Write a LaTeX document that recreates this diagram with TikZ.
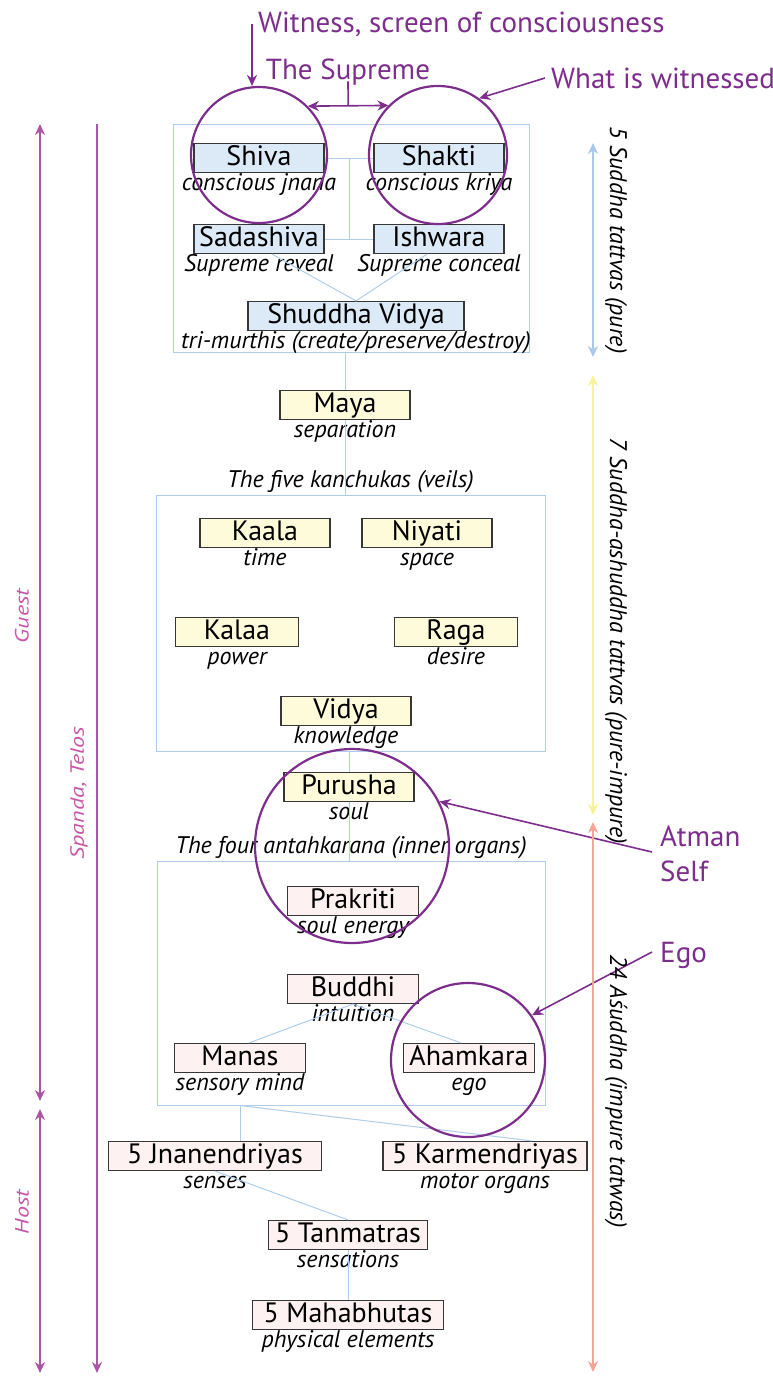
\documentclass[tikz,border=0pt]{standalone}
\usepackage{fontspec}
\setmainfont{PT Sans}
\usetikzlibrary{arrows.meta,calc}

\definecolor{annot}{RGB}{125,45,140}
\definecolor{sidecol}{RGB}{170,85,165}
\definecolor{sidetxt}{RGB}{200,85,165}
\definecolor{linkcol}{RGB}{175,205,235}
\definecolor{pureFill}{RGB}{220,234,247}
\definecolor{mixFill}{RGB}{254,251,219}
\definecolor{impFill}{RGB}{253,241,241}
\definecolor{pureArr}{RGB}{168,200,236}
\definecolor{mixArr}{RGB}{248,243,150}
\definecolor{impArr}{RGB}{247,164,150}
\definecolor{boxline}{RGB}{55,55,55}

\begin{document}
\begin{tikzpicture}[x=1pt, y=-1pt, >={Stealth[length=11pt,width=10pt]},
  tattva/.style={draw=boxline, line width=1.2pt, minimum width=130pt, minimum height=29pt,
    inner sep=0pt, text height=20pt, text depth=6pt, font=\fontsize{28}{28}\selectfont},
  sub/.style={inner sep=0pt, text height=17pt, text depth=6pt, font=\fontsize{24}{24}\selectfont\itshape},
  group/.style={draw=linkcol, line width=1pt, inner sep=0pt},
  title/.style={inner sep=0pt, text height=17pt, text depth=6pt, font=\fontsize{24}{24}\selectfont\itshape},
  link/.style={draw=linkcol, line width=1pt},
  halo/.style={circle, draw=annot, line width=2.2pt, inner sep=0pt},
  annotTxt/.style={text=annot, inner sep=0pt, font=\fontsize{29}{35}\selectfont},
  annotArrow/.style={draw=annot, line width=1.6pt, ->},
  vlabel/.style={inner sep=0pt, font=\fontsize{24}{24}\selectfont\itshape},
  sideTxt/.style={text=sidetxt, inner sep=0pt, font=\fontsize{24}{24}\selectfont\itshape},
  sideArrow/.style={draw=sidecol, line width=1.8pt}]
  \useasboundingbox (0,0) rectangle (773,1376);

  % Group frames
  \node[group, minimum width=356pt, minimum height=228pt] (pureBox) at (351,238) {};
  \node[group, minimum width=389pt, minimum height=256pt,
    label={[title, label distance=1pt]above:The five kanchukas (veils)}] (veilBox) at (350.5,623) {};
  \node[group, minimum width=388pt, minimum height=244pt,
    label={[title, label distance=1pt]above:The four antahkarana (inner organs)}] (organBox) at (351,983) {};

  % Pure tattvas
  \node[tattva, fill=pureFill, label={[sub]below:conscious jnana}] (shiva) at (259,158) {Shiva};
  \node[tattva, fill=pureFill, label={[sub]below:conscious kriya}] (shakti) at (439,158) {Shakti};
  \node[tattva, fill=pureFill, label={[sub]below:Supreme reveal}] (sadashiva) at (259,239) {Sadashiva};
  \node[tattva, fill=pureFill, label={[sub]below:Supreme conceal}] (ishwara) at (439,239) {Ishwara};
  \node[tattva, fill=pureFill, minimum width=216pt,
    label={[sub]below:{tri-murthis (create/preserve/destroy)}}] (shuddha) at (356,316) {Shuddha Vidya};

  % Pure-impure tattvas
  \node[tattva, fill=mixFill, label={[sub]below:separation}] (maya) at (345,405) {Maya};
  \node[tattva, fill=mixFill, label={[sub]below:time}] (kaala) at (265,533) {Kaala};
  \node[tattva, fill=mixFill, label={[sub]below:space}] (niyati) at (427,533) {Niyati};
  \node[tattva, fill=mixFill, minimum width=123pt, label={[sub]below:power}] (kalaa) at (237,632) {Kalaa};
  \node[tattva, fill=mixFill, minimum width=123pt, label={[sub]below:desire}] (raga) at (456,632) {Raga};
  \node[tattva, fill=mixFill, label={[sub]below:knowledge}] (vidya) at (346,711) {Vidya};
  \node[tattva, fill=mixFill, label={[sub]below:soul}] (purusha) at (349,787) {Purusha};

  % Impure tattvas
  \node[tattva, fill=impFill, minimum width=131pt, label={[sub]below:soul energy}] (prakriti) at (353,901) {Prakriti};
  \node[tattva, fill=impFill, minimum width=131pt, label={[sub]below:intuition}] (buddhi) at (353,989) {Buddhi};
  \node[tattva, fill=impFill, minimum width=131pt, label={[sub]below:sensory mind}] (manas) at (240,1058) {Manas};
  \node[tattva, fill=impFill, minimum width=131pt, label={[sub]below:ego}] (ahamkara) at (469,1058) {Ahamkara};
  \node[tattva, fill=impFill, minimum width=213pt, label={[sub]below:senses}] (jnan) at (215,1156) {5 Jnanendriyas};
  \node[tattva, fill=impFill, minimum width=204pt, label={[sub]below:motor organs}] (karm) at (485,1156) {5 Karmendriyas};
  \node[tattva, fill=impFill, minimum width=159pt, label={[sub]below:sensations}] (tanm) at (348,1235) {5 Tanmatras};
  \node[tattva, fill=impFill, minimum width=191pt, label={[sub]below:physical elements}] (maha) at (348,1315) {5 Mahabhutas};

  % Links
  \draw[link] (shiva.east) -- (shakti.west);
  \draw[link] (sadashiva.east) -- (ishwara.west);
  \draw[link] ($(shiva.east)!0.5!(shakti.west)$) -- ($(sadashiva.east)!0.5!(ishwara.west)$);
  \draw[link] ([xshift=13pt]sadashiva.south) -- (shuddha.north);
  \draw[link] ([xshift=-12pt]ishwara.south) -- (shuddha.north);
  \draw[link] (pureBox.south -| maya) -- (maya.north);
  \draw[link] (maya.south) -- (veilBox.north -| maya);
  \draw[link] (veilBox.south -| purusha) -- (purusha.north);
  \draw[link] (purusha.south) -- (organBox.north -| purusha);
  \draw[link] (buddhi.south) -- ([xshift=9pt]manas.north);
  \draw[link] (buddhi.south) -- ([xshift=-8pt]ahamkara.north);
  \draw[link] (organBox.south -| manas) -- (jnan.north -| manas);
  \draw[link] (organBox.south -| manas) -- ([xshift=47pt]karm.north);
  \draw[link] (jnan.south) -- (tanm.north);
  \draw[link] (tanm.south) -- (maha.north);

  % Witness circles and notes
  \node[halo, minimum size=136pt] (witnessC) at (259,155) {};
  \node[halo, minimum size=138pt] (witnessedC) at (438,155) {};
  \node[halo, minimum size=194pt] (atmanC) at (352,846) {};
  \node[halo, minimum size=154pt] (egoC) at (468,1060) {};

  \node[annotTxt, anchor=west] (witness) at (258,24) {Witness, screen of consciousness};
  \node[annotTxt] (supreme) at (348,72) {The Supreme};
  \node[annotTxt, anchor=west] (witnessed) at (551,78) {What is witnessed};
  \node[annotTxt, anchor=west, align=left] (atman) at (660,854) {Atman\\Self};
  \node[annotTxt, anchor=west] (egoTxt) at (660,955) {Ego};

  \draw[annotArrow] ([xshift=-6pt]witness.west) -- ([xshift=-6pt]witness.west |- witnessC.north);
  \draw[annotArrow, <->] (witnessC.45) -- coordinate (supremeMid) (witnessedC.135);
  \draw[draw=annot, line width=1.6pt] ([yshift=4pt]supreme.south) -- (supremeMid);
  \draw[annotArrow] ([xshift=-6pt]witnessed.west) -- (witnessedC.54);
  \draw[annotArrow] ([xshift=-8pt,yshift=2pt]atman.west) -- (atmanC.27);
  \draw[annotArrow] ([xshift=-8pt,yshift=3pt]egoTxt.west) -- (egoC.35);

  % Tattva ranges (right)
  \coordinate (pureTop) at (593,143);   \coordinate (pureEnd) at (593,357);
  \coordinate (mixTop) at (593,375);    \coordinate (mixEnd) at (593,815);
  \coordinate (impTop) at (593,822);    \coordinate (impEnd) at (593,1372);
  \draw[pureArr, line width=1.8pt, <->] (pureTop) -- (pureEnd);
  \draw[mixArr, line width=1.8pt, <->] (mixTop) -- (mixEnd);
  \draw[impArr, line width=1.8pt, <->] (impTop) -- (impEnd);
  \node[vlabel, rotate=-90] (pureTxt) at (616,240) {5 Suddha tattvas (pure)};
  \node[vlabel, rotate=-90] (mixTxt) at (616,641) {7 Suddha-ashuddha tattvas (pure-impure)};
  \node[vlabel, rotate=-90] (impTxt) at (616,1091) {24 Aśuddha (impure tatwas)};

  % Guest / host (left)
  \coordinate (guestTop) at (40,124);   \coordinate (guestEnd) at (40,1101);
  \coordinate (hostTop) at (40,1109);   \coordinate (hostEnd) at (40,1373);
  \coordinate (spandaTop) at (97,124);  \coordinate (spandaEnd) at (97,1373);
  \draw[sideArrow, <->] (guestTop) -- (guestEnd);
  \draw[sideArrow, <->] (hostTop) -- (hostEnd);
  \draw[sideArrow, ->] (spandaTop) -- (spandaEnd);
  \node[sideTxt, rotate=90] (guest) at (22,616) {\scalebox{1}[0.8]{Guest}};
  \node[sideTxt, rotate=90] (spanda) at (79,793) {\scalebox{1}[0.8]{Spanda, Telos}};
  \node[sideTxt, rotate=90] (host) at (22,1212) {\scalebox{1}[0.8]{Host}};
\end{tikzpicture}
\end{document}
